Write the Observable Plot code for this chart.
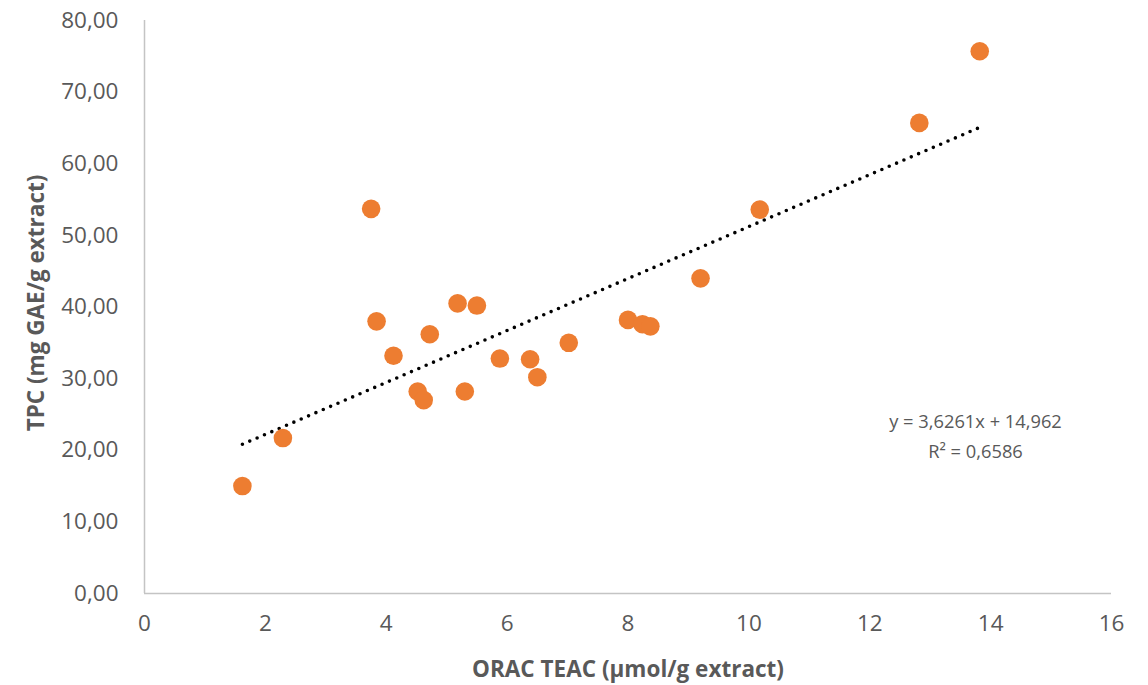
<!DOCTYPE html>
<html>
<head>
<meta charset="utf-8">
<script src="https://cdn.jsdelivr.net/npm/d3@7"></script>
<script src="https://cdn.jsdelivr.net/npm/@observablehq/plot@0.6"></script>
<style>
  html, body { margin: 0; padding: 0; background: #fff; }
  #chart svg { display: block; }
</style>
</head>
<body>
<div id="chart"></div>
<script>
// ORAC TEAC (µmol/g extract)
const oracTeac = [1.62, 2.29, 3.75, 3.84, 4.12, 4.52, 4.62, 4.72, 5.18, 5.30, 5.50, 5.88, 6.38, 6.50, 7.02, 8.00, 8.24, 8.37, 9.20, 10.18, 12.82, 13.82];
// TPC (mg GAE/g extract)
const tpc = [15.0, 21.7, 53.7, 38.0, 33.2, 28.2, 27.0, 36.2, 40.5, 28.2, 40.2, 32.8, 32.7, 30.2, 35.0, 38.2, 37.6, 37.3, 44.0, 53.6, 65.7, 75.7];

const xTicks = [0, 2, 4, 6, 8, 10, 12, 14, 16];
const yTicks = [0, 10, 20, 30, 40, 50, 60, 70, 80];

const slope = 3.6261;
const intercept = 14.962;
const rSquared = 0.6586;
const equationLines = ["y = 3,6261x + 14,962", "R² = 0,6586"];
const equationAnchor = {x: 13.75, y: [23.9, 19.8]};

const points = oracTeac.map((x, i) => ({x, y: tpc[i]}));
const xMin = d3.min(oracTeac), xMax = d3.max(oracTeac);
const trend = [xMin, xMax].map(x => ({x, y: slope * x + intercept}));
const eqData = equationLines.map((t, i) => ({t, x: equationAnchor.x, y: equationAnchor.y[i]}));

const font = "'Open Sans', sans-serif";
const textColor = "#595959";
const axisColor = "#c4c4c4";

const chart = Plot.plot({
  width: 1148,
  height: 685,
  marginLeft: 144,
  marginRight: 37,
  marginTop: 20,
  marginBottom: 92,
  style: {fontFamily: font, background: "#fff", color: textColor},
  x: {domain: [0, 16], ticks: xTicks},
  y: {domain: [0, 80], ticks: yTicks},
  marks: [
    Plot.ruleY([0], {stroke: axisColor, strokeWidth: 1.5}),
    Plot.ruleX([0], {stroke: axisColor, strokeWidth: 1.5}),
    Plot.axisX({
      ticks: xTicks, tickSize: 0, tickPadding: 22, label: null,
      fontSize: 22.5, fill: textColor, tickFormat: d => String(d)
    }),
    Plot.axisY({
      ticks: yTicks, tickSize: 0, tickPadding: 26, label: null,
      fontSize: 22.5, fill: textColor,
      tickFormat: d => d.toFixed(2).replace(".", ",")
    }),
    Plot.text(["ORAC TEAC (µmol/g extract)"], {
      frameAnchor: "bottom", dy: 76, fontSize: 22.5, fontWeight: "bold",
      fill: textColor, lineAnchor: "middle"
    }),
    Plot.text(["TPC (mg GAE/g extract)"], {
      frameAnchor: "left", dx: -108, dy: -4, rotate: -90, fontSize: 22.5,
      fontWeight: "bold", fill: textColor, lineAnchor: "middle", textAnchor: "middle"
    }),
    Plot.line(trend, {
      x: "x", y: "y", stroke: "#000", strokeWidth: 3.6,
      strokeDasharray: "0,8", strokeLinecap: "round"
    }),
    Plot.dot(points, {x: "x", y: "y", r: 9.3, fill: "#ED7D31", stroke: "none"}),
    Plot.text(eqData, {
      x: "x", y: "y", text: "t", fontSize: 18.3, fill: textColor, textAnchor: "middle"
    })
  ]
});

document.getElementById("chart").append(chart);
</script>
</body>
</html>
